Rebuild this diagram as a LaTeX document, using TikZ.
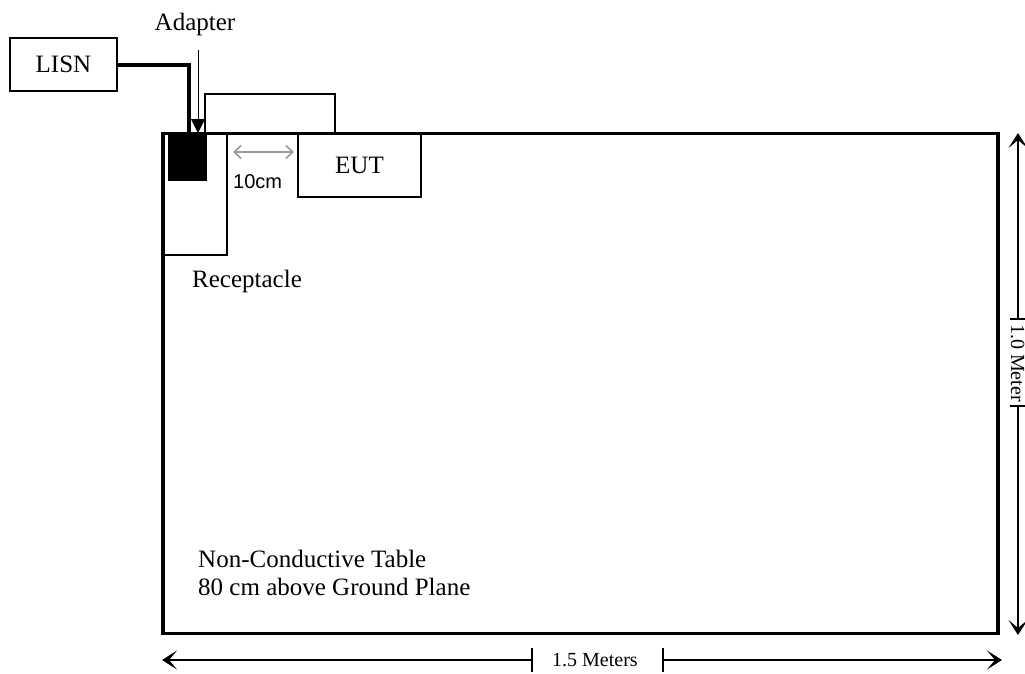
\documentclass[tikz,border=0pt]{standalone}
\usepackage{fontspec}
\setmainfont{Liberation Serif}
\newfontfamily\arialfont{Liberation Sans}
\usetikzlibrary{arrows.meta}
\tikzset{
  box/.style={draw, line width=1.5pt, rectangle, inner sep=0pt},
  mainlbl/.style={font=\fontsize{25}{28}\selectfont, inner sep=0pt},
  dimlbl/.style={font=\fontsize{20}{24}\selectfont, inner sep=0pt},
  dimline/.style={line width=1.8pt, -{Stealth[length=15pt,width=19pt,inset=8pt]}},
  tick/.style={line width=1.8pt},
  cable/.style={line width=4pt},
  grayarrow/.style={draw=gray!80, line width=1.6pt, {Straight Barb[length=7pt,width=13pt]}-{Straight Barb[length=7pt,width=13pt]}}
}
\begin{document}
\begin{tikzpicture}[x=1pt,y=-1pt]
\useasboundingbox (0,0) rectangle (1025,673);
% table
\node[box, line width=3.5pt, minimum width=835pt, minimum height=500pt] (tbl) at (580.5,383.5) {};
% LISN
\node[box, minimum width=107pt, minimum height=53pt, mainlbl] (lisn) at (63.5,64.5) {LISN};
% receptacle
\node[box, minimum width=64pt, minimum height=122pt] (rec) at (195,194) {};
% adapter block
\node[fill=black, draw=black, minimum width=38pt, minimum height=45pt, inner sep=0pt] (adp) at (187,157.5) {};
% EUT
\node[box, minimum width=123pt, minimum height=64pt, mainlbl] (eut) at (359.5,165) {EUT};
% EUT cord
\coordinate (c1) at (205,133);
\coordinate (c2) at (335,133);
\draw[line width=1.5pt] (c1) -- (205,94) -- (335,94) -- (c2);
% LISN cable
\coordinate (cabEnd) at (189,133);
\draw[cable] (lisn.east) -| (cabEnd);
% adapter label + arrow
\node[mainlbl, anchor=base] (adlbl) at (195,30) {Adapter};
\coordinate (adTop) at (198,50);
\coordinate (adTip) at (198,133);
\draw[line width=1pt, -{Triangle[length=14pt,width=14pt]}] (adTop) -- (adTip);
% 10cm
\coordinate (g1) at (233,152);
\coordinate (g2) at (294,152);
\draw[grayarrow] (g1) -- (g2);
\node[font=\arialfont\fontsize{20}{24}\selectfont, inner sep=0pt, anchor=base west] (tencm) at (233,188) {10cm};
% labels
\node[mainlbl, anchor=base west] (reclbl) at (192,287) {Receptacle};
\node[mainlbl, anchor=base west] (tl1) at (198,567) {Non-Conductive Table};
\node[mainlbl, anchor=base west] (tl2) at (198,595) {80 cm above Ground Plane};
% bottom dimension
\coordinate (bL) at (162,660);
\coordinate (bT1) at (532,660);
\coordinate (bT2) at (663,660);
\coordinate (bR) at (1002,660);
\draw[dimline] (bT1) -- (bL);
\draw[dimline] (bT2) -- (bR);
\draw[tick] (532,648) -- (532,672);
\draw[tick] (663,648) -- (663,672);
\node[dimlbl, anchor=base west] (blbl) at (552,666) {1.5 Meters};
% right dimension
\coordinate (rT) at (1018,133);
\coordinate (rT1) at (1018,319);
\coordinate (rT2) at (1018,406);
\coordinate (rB) at (1018,635);
\draw[dimline] (rT1) -- (rT);
\draw[dimline] (rT2) -- (rB);
\draw[tick] (1010,319) -- (1025,319);
\draw[tick] (1010,406) -- (1025,406);
\node[dimlbl, anchor=base west, rotate=-90] (rlbl) at (1011,324) {1.0 Meter};
\end{tikzpicture}
\end{document}
